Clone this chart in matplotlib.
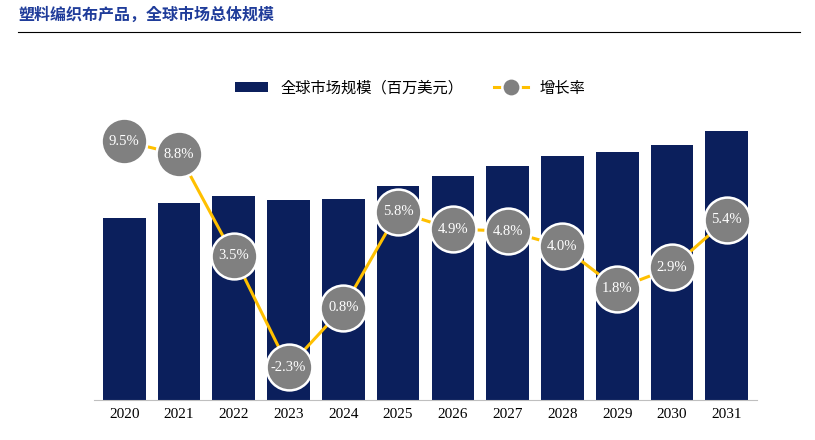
import matplotlib
matplotlib.use("Agg")
import matplotlib.pyplot as plt
from matplotlib import font_manager as fm
import glob

years = ["2020","2021","2022","2023","2024","2025","2026","2027","2028","2029","2030","2031"]
market = [1820,1970,2040,2000,2010,2140,2240,2340,2440,2480,2550,2690]
growth = [9.5,8.8,3.5,-2.3,0.8,5.8,4.9,4.8,4.0,1.8,2.9,5.4]
growth_labels = ["9.5%","8.8%","3.5%","-2.3%","0.8%","5.8%","4.9%","4.8%","4.0%","1.8%","2.9%","5.4%"]

cjk = None
for f in glob.glob("/usr/share/fonts/**/*CJK*", recursive=True) + glob.glob("/usr/share/fonts/**/*cjk*", recursive=True):
    try:
        fm.fontManager.addfont(f)
    except Exception:
        pass
names = {f.name for f in fm.fontManager.ttflist}
for n in ["Noto Sans CJK SC", "Noto Sans CJK JP", "Noto Sans CJK TC", "Noto Sans CJK KR"]:
    if n in names:
        cjk = n
        break
plt.rcParams["font.family"] = [cjk or "Noto Sans CJK SC", "DejaVu Sans"]

W, H = 815, 440
fig = plt.figure(figsize=(W/100, H/100), dpi=100)
fig.text(18/W, 1-15/H, "塑料编织布产品，全球市场总体规模", color="#1F3C9A", fontsize=11.5, weight="bold", va="center")
fig.add_artist(plt.Line2D([18/W, 800/W], [1-32/H, 1-32/H], color="black", lw=0.8))

ax = fig.add_axes([94/W, 1-400/H, (757-94)/W, 340/H])
x = list(range(len(years)))
bars = ax.bar(x, market, width=0.78, color="#0B1F5C", label="全球市场规模（百万美元）")
ax.set_xlim(-0.55, 11.55)
ax.set_ylim(0, 3400)
ax.set_yticks([])
for s in ["top","right","left"]:
    ax.spines[s].set_visible(False)
ax.spines["bottom"].set_color("#BFBFBF")
ax.set_xticks(x)
ax.set_xticklabels(years, fontfamily="Liberation Serif", fontsize=11)
ax.tick_params(axis="x", length=0, pad=6)

ax2 = ax.twinx()
ax2.set_ylim(-4.02, 13.73)
ax2.axis("off")
ln, = ax2.plot(x, growth, color="#FFC000", lw=2.2, marker="o", markersize=33,
               markerfacecolor="#808080", markeredgecolor="white", markeredgewidth=1.8, label="增长率")
for xi, g, t in zip(x, growth, growth_labels):
    ax2.text(xi, g, t, color="white", ha="center", va="center", fontsize=10.5, fontfamily="Liberation Serif")

fig.legend(handles=[bars, ln], labels=["全球市场规模（百万美元）", "增长率"], loc="center",
           bbox_to_anchor=(410/W, 1-88/H), ncol=2, frameon=False, fontsize=11,
           handlelength=2.2, columnspacing=2, markerscale=0.4)
fig.savefig("out.png", dpi=100)
